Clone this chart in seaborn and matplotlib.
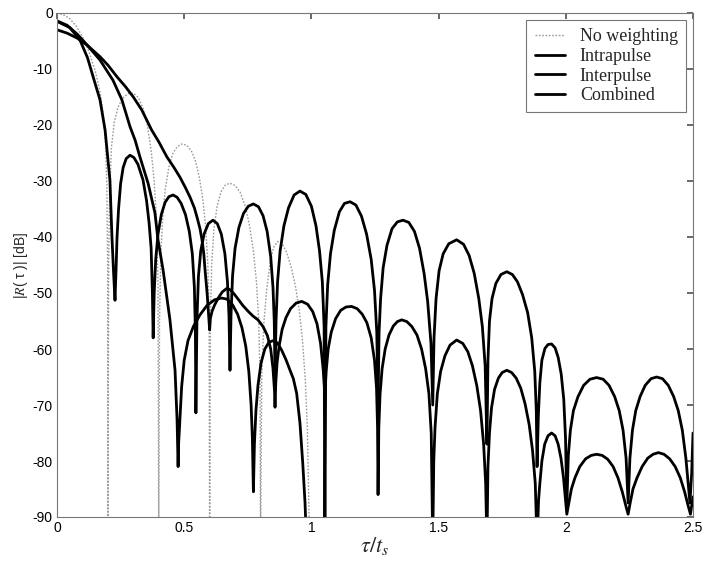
import matplotlib
matplotlib.use('Agg')
import matplotlib.pyplot as plt
import seaborn as sns

# ---------------- data ----------------
labels = ['No weighting', 'Intrapulse', 'Interpulse', 'Combined']

nw_x = [0, 0.025, 0.05, 0.075, 0.1, 0.125, 0.15, 0.168, 0.182, 0.191, 0.196, 0.199, 0.2,
        0.203, 0.207, 0.214, 0.225, 0.24, 0.258, 0.28, 0.3, 0.32, 0.338, 0.355, 0.37, 0.382,
        0.391, 0.397, 0.4,
        0.403, 0.408, 0.415, 0.425, 0.44, 0.455, 0.472, 0.49, 0.51, 0.528, 0.545, 0.56, 0.574,
        0.585, 0.593, 0.598, 0.6,
        0.603, 0.608, 0.617, 0.63, 0.645, 0.662, 0.68, 0.7, 0.72, 0.74, 0.757, 0.772, 0.784,
        0.793, 0.798, 0.8,
        0.805, 0.812, 0.824, 0.838, 0.852, 0.868, 0.885, 0.903, 0.92, 0.937, 0.952, 0.965,
        0.976, 0.984, 0.99, 0.995]
nw_y = [0, -0.3, -1.0, -2.3, -4.2, -6.8, -10.3, -13.8, -18, -23.5, -31, -45, -95,
        -45, -32, -24, -19.5, -16.8, -15.2, -14.4, -14.3, -15.1, -17, -20, -24.5, -30,
        -37, -48, -95,
        -55, -43, -37, -31.6, -27.5, -25.1, -23.9, -23.4, -23.6, -24.6, -26.5, -29.5, -33.5,
        -38.5, -45, -55, -95,
        -55, -45, -38.5, -34.3, -31.9, -30.7, -30.4, -30.8, -32, -34.5, -38, -42.5, -48,
        -55, -65, -95,
        -65, -56, -49.5, -44.5, -41.8, -40.8, -41.2, -42.8, -45.3, -48.7, -53, -58.5,
        -65.5, -74, -88, -100]

intra_x = [0, 0.05, 0.09, 0.12, 0.142, 0.169, 0.189, 0.208, 0.216, 0.222, 0.228,
           0.232, 0.236, 0.242, 0.25, 0.26, 0.272, 0.287, 0.302, 0.318, 0.338, 0.352, 0.362,
           0.37, 0.375, 0.378,
           0.382, 0.388, 0.397, 0.41, 0.425, 0.44, 0.456, 0.472, 0.488, 0.505, 0.52, 0.532,
           0.54, 0.544, 0.546,
           0.55, 0.556, 0.565, 0.578, 0.595, 0.613, 0.63, 0.646, 0.66, 0.67, 0.676, 0.68,
           0.684, 0.69, 0.7, 0.715, 0.733, 0.752, 0.772, 0.792, 0.81, 0.826, 0.84, 0.849,
           0.854, 0.857,
           0.861, 0.867, 0.877, 0.892, 0.91, 0.932, 0.955, 0.978, 1.0, 1.018, 1.032, 1.043,
           1.05, 1.053,
           1.057, 1.064, 1.075, 1.09, 1.11, 1.13, 1.152, 1.175, 1.197, 1.217, 1.235, 1.248,
           1.257, 1.262,
           1.266, 1.272, 1.282, 1.297, 1.317, 1.338, 1.36, 1.383, 1.405, 1.425, 1.443, 1.457,
           1.47, 1.477,
           1.482, 1.49, 1.502, 1.518, 1.54, 1.571, 1.598, 1.62, 1.64, 1.658, 1.672, 1.683, 1.69,
           1.694, 1.7, 1.71, 1.725, 1.745, 1.768, 1.79, 1.81, 1.83, 1.85, 1.866, 1.878, 1.884,
           1.887,
           1.892, 1.898, 1.906, 1.918, 1.93, 1.944, 1.958, 1.97, 1.982, 1.992, 1.999, 2.004,
           2.01, 2.018, 2.03, 2.048, 2.07, 2.095, 2.121, 2.147, 2.17, 2.192, 2.21, 2.225,
           2.237, 2.245,
           2.252, 2.262, 2.275, 2.292, 2.312, 2.335, 2.357, 2.38, 2.403, 2.424, 2.442, 2.458,
           2.472, 2.488, 2.495, 2.5]
intra_y = [-1.5, -2.6, -4.8, -8, -11.4, -15.5, -20.9, -29.8, -40, -46, -51.3,
           -46, -40, -35, -30.5, -27.6, -26, -25.4, -25.8, -27, -29.8, -33.5, -37.5,
           -42, -50, -58,
           -50, -44, -39.5, -36, -33.8, -32.8, -32.5, -32.9, -34, -36, -39, -43,
           -49, -57, -71.4,
           -55, -47, -42.5, -39.5, -37.6, -37, -37.6, -39.5, -43, -48, -54, -63.8,
           -54, -47, -42, -38.3, -35.8, -34.5, -34.1, -34.6, -36.2, -39, -43.5, -49,
           -55, -65,
           -55, -48, -42.5, -38, -34.8, -32.5, -31.8, -32.4, -34.5, -38, -42.5, -48,
           -56, -95,
           -56, -48.5, -43, -38.8, -35.5, -34, -33.7, -34.3, -36.3, -39.5, -44, -49.5,
           -57, -70,
           -57, -51, -45.5, -41.5, -38.5, -37.3, -37, -37.4, -39, -42, -46.5, -51.5,
           -59, -70,
           -58, -51, -46, -43, -41.2, -40.5, -41.3, -43.3, -46.5, -51, -56, -63, -77,
           -62, -55, -51, -48.3, -46.7, -46.2, -46.7, -48, -50.3, -53.5, -58, -64, -71,
           -81,
           -72, -66, -62, -59.9, -59.2, -59.1, -59.8, -61.5, -64.5, -69, -76, -88,
           -79, -74.5, -71, -68.5, -66.5, -65.4, -65.1, -65.4, -66.5, -68.5, -71, -74.5,
           -79.5, -87.5,
           -79.5, -74.5, -71, -68.5, -66.5, -65.3, -65, -65.3, -66.5, -68.5, -71, -74.5,
           -79.5, -87.5, -82, -75]

inter_x = [0, 0.04, 0.08, 0.12, 0.169, 0.22, 0.255, 0.287, 0.307, 0.326, 0.358, 0.385,
           0.397, 0.417, 0.444, 0.464, 0.472, 0.476,
           0.478, 0.483, 0.49, 0.5, 0.515, 0.536, 0.562, 0.59, 0.62, 0.647, 0.668, 0.69, 0.71,
           0.727, 0.742, 0.754, 0.763, 0.768, 0.772,
           0.776, 0.782, 0.79, 0.802, 0.817, 0.833, 0.85, 0.866, 0.883, 0.9, 0.916, 0.929,
           0.942, 0.955, 0.966, 0.975, 0.985]
inter_y = [-1.4, -2.2, -3.8, -5.8, -8.4, -12, -15.5, -20.3, -22.7, -25.7, -30.4, -35.7,
           -40.5, -45.9, -54.8, -63.8, -72.7, -81,
           -77, -72.7, -66.7, -62, -58.5, -56, -53.9, -52.2, -51.2, -50.9, -51.1, -52.1, -53.8,
           -56.2, -59.5, -64, -70, -76, -85.5,
           -77, -71, -66.5, -62.5, -60, -58.8, -58.5, -58.9, -60.2, -61.9, -63.8, -65.3,
           -67.9, -73.2, -80.4, -87.5, -100]

comb_x = [0, 0.04, 0.08, 0.12, 0.169, 0.2, 0.236, 0.27, 0.3, 0.333, 0.372, 0.4, 0.432,
          0.46, 0.483, 0.505, 0.523, 0.54, 0.55, 0.562, 0.57, 0.577, 0.582, 0.59, 0.596, 0.6,
          0.603, 0.61, 0.62, 0.635, 0.65, 0.667, 0.68, 0.695, 0.712, 0.73, 0.752, 0.77, 0.79,
          0.81, 0.827, 0.84, 0.849, 0.855, 0.857,
          0.86, 0.865, 0.873, 0.885, 0.9, 0.918, 0.94, 0.962, 0.985, 1.005, 1.022, 1.036,
          1.046, 1.053,
          1.058, 1.066, 1.078, 1.095, 1.115, 1.136, 1.158, 1.18, 1.2, 1.218, 1.235, 1.248,
          1.256, 1.26, 1.262,
          1.265, 1.27, 1.278, 1.29, 1.305, 1.322, 1.338, 1.355, 1.375, 1.395, 1.415, 1.433,
          1.449, 1.462, 1.471, 1.477,
          1.481, 1.486, 1.495, 1.508, 1.525, 1.545, 1.571, 1.595, 1.615, 1.633, 1.65, 1.665,
          1.677, 1.685, 1.69,
          1.694, 1.7, 1.708, 1.72, 1.735, 1.75, 1.768, 1.787, 1.805, 1.823, 1.84, 1.856,
          1.869, 1.88, 1.887,
          1.893, 1.898, 1.906, 1.917, 1.93, 1.944, 1.958, 1.97, 1.981, 1.991, 1.998, 2.004,
          2.012, 2.022, 2.036, 2.055, 2.078, 2.1, 2.121, 2.143, 2.165, 2.186, 2.205, 2.222,
          2.236, 2.245,
          2.253, 2.264, 2.28, 2.3, 2.322, 2.343, 2.364, 2.386, 2.408, 2.43, 2.45, 2.467,
          2.481, 2.49, 2.5]
comb_y = [-3, -3.6, -4.5, -5.8, -7.8, -9.3, -11.4, -13.2, -15, -17.3, -20.9, -23, -25.7,
          -27.6, -29.3, -31.2, -32.9, -34.8, -36.4, -38.5, -40.5, -43, -45.9, -50, -54, -56.6,
          -54.5, -53.2, -52.1, -50.8, -49.8, -49.2, -49.4, -50.1, -51.1, -52.2, -53.3, -54.1,
          -54.8, -56, -57.6, -60, -63.5, -67.5, -70.4,
          -66, -62.5, -59.5, -56.5, -54.4, -52.8, -51.8, -51.5, -52, -53.3, -55.5, -59,
          -63.5, -68,
          -64, -60, -57, -54.6, -53.1, -52.5, -52.4, -52.8, -53.8, -55.3, -58, -62,
          -67, -74, -86,
          -74, -68, -63.5, -60, -57.5, -55.9, -55.1, -54.8, -55.1, -56, -57.5, -60,
          -63.5, -68, -75, -95,
          -80, -74, -68, -64, -61.2, -59.3, -58.4, -59, -60.5, -63, -66.5, -71,
          -77, -84, -95,
          -81, -75, -70.5, -67.2, -65.2, -64.2, -63.8, -64.2, -65.2, -67, -69.8, -73.5,
          -78, -84, -95,
          -87, -84, -80, -77, -75.5, -75, -75.5, -77, -79.5, -83, -86.5, -89.5,
          -87.5, -85, -83, -81, -79.6, -79, -78.8, -79, -79.7, -81, -83, -85.5,
          -88, -89.5,
          -87.5, -85, -83, -81, -79.5, -78.8, -78.5, -78.8, -79.6, -81, -83, -85.5,
          -88, -89.5, -86.4]

x_ticks = [0, 0.5, 1, 1.5, 2, 2.5]
x_ticklabels = ['0', '0.5', '1', '1.5', '2', '2.5']
y_ticks = [-90, -80, -70, -60, -50, -40, -30, -20, -10, 0]

# ---------------- plotting ----------------
sns.set_theme(style='white')
plt.rcParams['font.family'] = ['Liberation Sans', 'DejaVu Sans']
plt.rcParams['mathtext.fontset'] = 'stix'
plt.rcParams['axes.unicode_minus'] = False

fig = plt.figure(figsize=(7.04, 5.61), dpi=100)
ax = fig.add_axes([57 / 704, 1 - 517 / 561, 636 / 704, 504 / 561])

sns.lineplot(x=nw_x, y=nw_y, ax=ax, color='#9a9a9a', lw=1.0, linestyle=(0, (1.2, 1.2)),
             sort=False, estimator=None, label=labels[0])
sns.lineplot(x=intra_x, y=intra_y, ax=ax, color='black', lw=2.0,
             sort=False, estimator=None, label=labels[1])
sns.lineplot(x=inter_x, y=inter_y, ax=ax, color='black', lw=2.0,
             sort=False, estimator=None, label=labels[2])
sns.lineplot(x=comb_x, y=comb_y, ax=ax, color='black', lw=2.0,
             sort=False, estimator=None, label=labels[3])

ax.set_xlim(0, 2.5)
ax.set_ylim(-90, 0)
ax.set_xticks(x_ticks)
ax.set_xticklabels(x_ticklabels)
ax.set_yticks(y_ticks)
ax.tick_params(direction='in', top=True, right=True, labelsize=10, length=4,
               color='#555555', labelcolor='black', pad=3)
for s in ax.spines.values():
    s.set_color('#777777')
    s.set_linewidth(0.8)

ax.set_xlabel(r'$\tau/t_s$', fontsize=16, labelpad=0)
ax.set_ylabel('|$R$( τ )| [dB]', fontsize=10, labelpad=2)

leg = ax.legend(loc='upper right', prop={'family': 'Liberation Serif', 'size': 13},
                frameon=True, fancybox=False, edgecolor='#555555', handlelength=1.7,
                borderpad=0.45, labelspacing=0.15, handletextpad=0.8, borderaxespad=0.0,
                bbox_to_anchor=(0.989, 0.986))
leg.get_frame().set_linewidth(0.8)

fig.savefig('out.png', dpi=100)
